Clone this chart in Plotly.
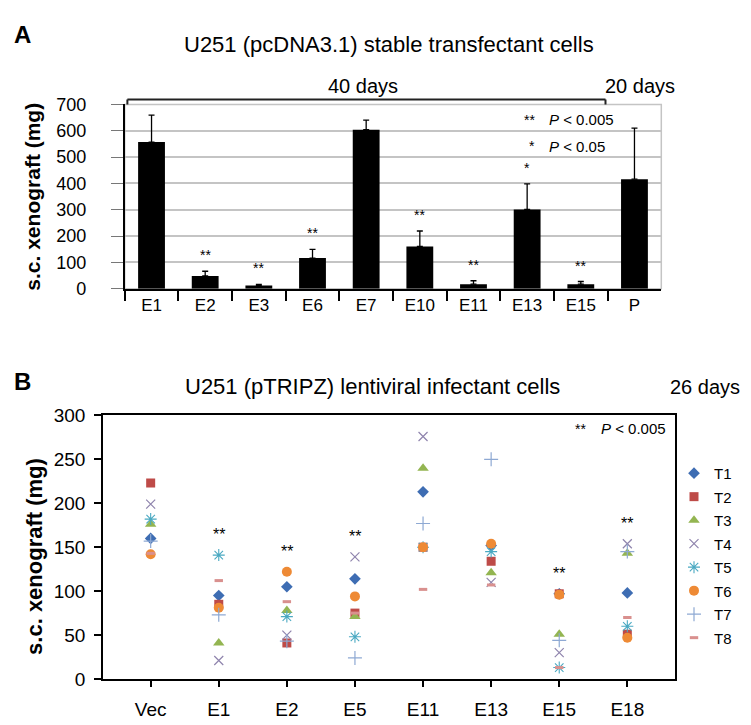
import plotly.graph_objects as go

# panel A: bar chart, mean tumour weight and upper error
a_cats = ["E1", "E2", "E3", "E6", "E7", "E10", "E11", "E13", "E15", "P"]
a_mean = [557, 48, 12, 116, 604, 160, 17, 301, 17, 416]
a_err = [102, 18, 4, 33, 36, 59, 13, 97, 10, 194]
a_sig = ["", "**", "**", "**", "", "**", "**", "*", "**", ""]

# panel B: individual tumours T1..T8 per clone
b_cats = ["Vec", "E1", "E2", "E5", "E11", "E13", "E15", "E18"]
b_sig = ["", "**", "**", "**", "", "", "**", "**"]
t1 = [160, 95, 105, 114, 213, 152, 97, 98]
t2 = [223, 85, 41, 75, 150, 134, 97, 51]
t3 = [176, 41, 78, 71, 240, 121, 51, 143]
t4 = [199, 21, 50, 139, 276, 110, 30, 154]
t5 = [182, 141, 71, 48, 150, 145, 13, 60]
t6 = [142, 81, 122, 94, 150, 154, 96, 47]
t7 = [157, 73, 43, 24, 177, 250, 44, 145]
t8 = [143, 112, 88, 75, 102, 107, 13, 70]
b_names = ["T1", "T2", "T3", "T4", "T5", "T6", "T7", "T8"]
b_values = [t1, t2, t3, t4, t5, t6, t7, t8]

FONT = "Arial, Liberation Sans, sans-serif"
W, H = 751, 725

styles = [
    dict(symbol="diamond", color="#3e6db3", size=9),
    dict(symbol="square", color="#be4b48", size=9),
    dict(symbol="triangle-up", color="#93b551", size=10),
    dict(symbol="x-thin-open", color="#8f84ad", size=9, line=dict(width=1.2, color="#8f84ad")),
    dict(symbol="asterisk-open", color="#4aa9c2", size=10, line=dict(width=1.1, color="#4aa9c2")),
    dict(symbol="circle", color="#ee8a35", size=10),
    dict(symbol="cross-thin-open", color="#8ea9d3", size=10, line=dict(width=1.2, color="#8ea9d3")),
    dict(symbol="line-ew-open", color="#d9908e", size=6, line=dict(width=3, color="#d9908e")),
]


def px(x, y):
    return x / W, 1 - y / H


fig = go.Figure()

fig.add_trace(go.Bar(
    x=a_cats, y=a_mean, width=0.5,
    marker=dict(color="black", line=dict(width=0)),
    error_y=dict(type="data", array=a_err, symmetric=False,
                 arrayminus=[0] * len(a_err), color="black",
                 thickness=1.3, width=3),
    showlegend=False, xaxis="x", yaxis="y",
))

for name, vals, st in zip(b_names, b_values, styles):
    fig.add_trace(go.Scatter(
        x=b_cats, y=vals, mode="markers", name=name, marker=st,
        xaxis="x2", yaxis="y2", legendgroup=name,
    ))

ann = []

# significance stars over bars
for c, m, e, s in zip(a_cats, a_mean, a_err, a_sig):
    if s:
        ann.append(dict(x=c, y=m + e, xref="x", yref="y", text=s, showarrow=False,
                        yanchor="bottom", yshift=6,
                        font=dict(size=14, family=FONT, color="black")))

# significance stars over scatter groups
for i, s in enumerate(b_sig):
    if s:
        top = max(v[i] for v in b_values)
        ann.append(dict(x=b_cats[i], y=top, xref="x2", yref="y2", text=s, showarrow=False,
                        yanchor="bottom", yshift=10,
                        font=dict(size=16, family=FONT, color="black")))


def label(x, y, text, size, **kw):
    xp, yp = px(x, y)
    d = dict(x=xp, y=yp, xref="paper", yref="paper", text=text, showarrow=False,
             xanchor="center", yanchor="middle",
             font=dict(size=size, family=FONT, color="black"))
    d.update(kw)
    ann.append(d)


label(14, 17, "<b>A</b>", 24)
label(381, 27, "U251 (pcDNA3.1) stable transfectant cells", 22)
label(355, 70, "40 days", 20)
label(632, 70, "20 days", 20)
label(529, 105, "**", 14, xanchor="right")
label(539, 105, "<i>P</i> < 0.005", 15, xanchor="left")
label(529, 132, "*", 14, xanchor="right")
label(539, 132, "<i>P</i> < 0.05", 15, xanchor="left")
label(25, 184, "<b>s.c. xenograft (mg)</b>", 21, textangle=-90)

label(14, 374, "<b>B</b>", 24)
label(364, 380, "U251 (pTRIPZ) lentiviral infectant cells", 22)
label(697, 380, "26 days", 20)
label(580, 423, "**", 14, xanchor="right")
label(591, 423, "<i>P</i> < 0.005", 15, xanchor="left")
label(27, 555, "<b>s.c. xenograft (mg)</b>", 22, textangle=-90)

by0, by1 = px(0, 84)[1], px(0, 89)[1]
shapes = [
    dict(type="rect", xref="x domain", yref="y domain", x0=0, x1=1, y0=0, y1=1,
         line=dict(color="#c4c4c4", width=1.5), layer="below"),
    dict(type="line", xref="x", yref="paper", x0=-0.45, x1=8.46, y0=by0, y1=by0,
         line=dict(color="#222", width=2)),
    dict(type="line", xref="x", yref="paper", x0=-0.45, x1=-0.45, y0=by0, y1=by1,
         line=dict(color="#222", width=2)),
    dict(type="line", xref="x", yref="paper", x0=8.46, x1=8.46, y0=by0, y1=by1,
         line=dict(color="#222", width=2)),
]

fig.update_layout(
    width=W, height=H, margin=dict(l=0, r=0, t=0, b=0),
    paper_bgcolor="white", plot_bgcolor="white",
    font=dict(family=FONT, color="black"),
    annotations=ann, shapes=shapes, bargap=0.5,
    xaxis=dict(domain=[116.7 / W, 653.3 / W], anchor="y", type="category",
               range=[-0.5, 9.5], showline=True, linecolor="black", linewidth=1.5,
               ticks="outside", tickson="boundaries", ticklen=11, tickwidth=1.5,
               tickcolor="black", showgrid=False, tickfont=dict(size=17),
               fixedrange=True),
    yaxis=dict(domain=[px(0, 278.7)[1], px(0, 89)[1]], anchor="x", range=[0, 700],
               dtick=100, showline=True, linecolor="black", linewidth=1.5,
               ticks="outside", ticklen=12, tickcolor="#777", tickwidth=1.2,
               showgrid=True, gridcolor="#c4c4c4", gridwidth=1.5, zeroline=False,
               tickfont=dict(size=18), ticklabelstandoff=21),
    xaxis2=dict(domain=[95 / W, 667 / W], anchor="y2", type="category",
                range=[-0.7, 7.7], showline=True, mirror=True, linecolor="black",
                linewidth=1.5, ticks="outside", ticklen=6, tickwidth=1.5,
                tickcolor="black", showgrid=False, tickfont=dict(size=19),
                ticklabelstandoff=6),
    yaxis2=dict(domain=[px(0, 680.7)[1], px(0, 409.3)[1]], anchor="x2", range=[0, 300],
                dtick=50, showline=True, mirror=True, linecolor="black", linewidth=1.5,
                ticks="outside", ticklen=7, tickwidth=1.5, tickcolor="black",
                showgrid=False, zeroline=False, tickfont=dict(size=19),
                ticklabelstandoff=5),
    legend=dict(x=666 / W, y=px(0, 452)[1], xanchor="left", yanchor="top",
                font=dict(size=15, family=FONT), bgcolor="rgba(0,0,0,0)",
                tracegroupgap=1, itemwidth=30),
)

fig.write_html("out.html")
